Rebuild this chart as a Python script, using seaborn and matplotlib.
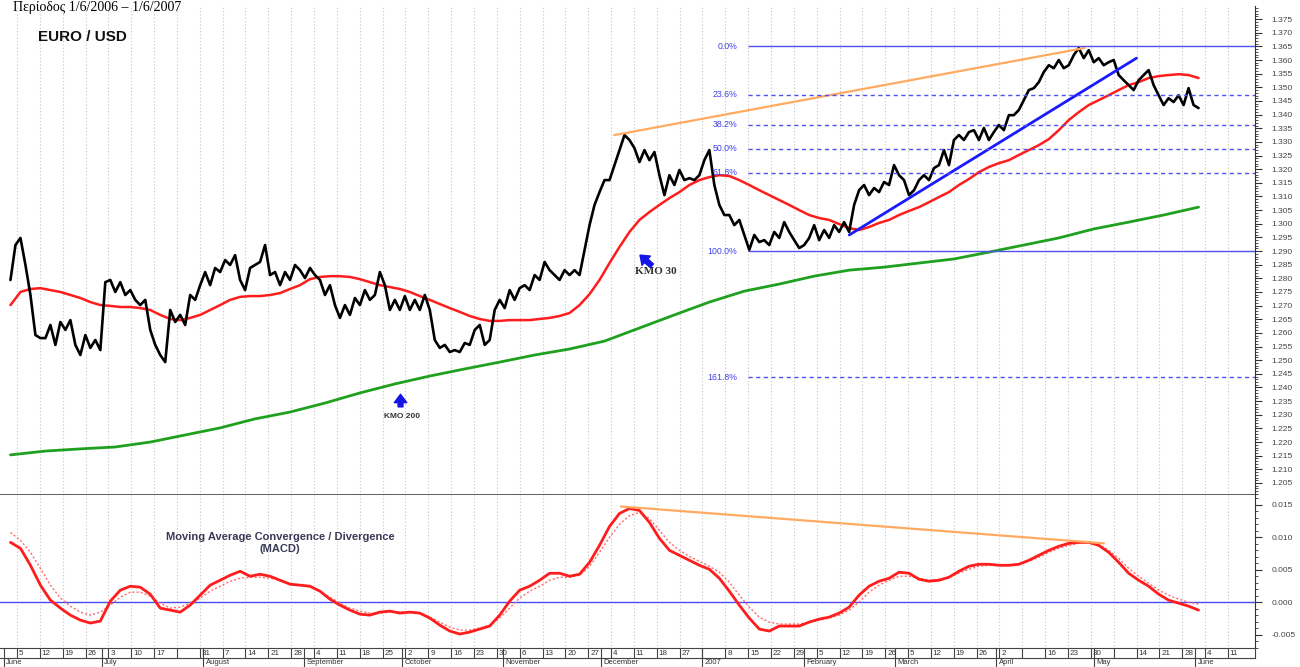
import matplotlib
matplotlib.use("Agg")
import matplotlib.pyplot as plt
from matplotlib.ticker import MultipleLocator, FormatStrFormatter
import pandas as pd
import seaborn as sns

# data (daily-ish samples, first = 2006-06-03, last = 2007-06-02)
START, END = "2006-06-03", "2007-06-02"

eurusd = [
    1.2794, 1.2922, 1.2948, 1.2849, 1.2739, 1.2592, 1.2581, 1.2581, 1.2629, 1.2556,
    1.2640, 1.2611, 1.2647, 1.2556, 1.2519, 1.2592, 1.2545, 1.2574, 1.2537, 1.2786,
    1.2794, 1.2750, 1.2786, 1.2739, 1.2757, 1.2721, 1.2702, 1.2721, 1.2611, 1.2556,
    1.2519, 1.2493, 1.2684, 1.2640, 1.2666, 1.2629, 1.2739, 1.2721, 1.2775, 1.2823,
    1.2775, 1.2838, 1.2823, 1.2867, 1.2849, 1.2885, 1.2794, 1.2757, 1.2838, 1.2849,
    1.2860, 1.2922, 1.2812, 1.2823, 1.2775, 1.2823, 1.2794, 1.2849, 1.2830, 1.2801,
    1.2838, 1.2812, 1.2794, 1.2739, 1.2775, 1.2702, 1.2655, 1.2702, 1.2666, 1.2728,
    1.2702, 1.2757, 1.2721, 1.2739, 1.2823, 1.2775, 1.2684, 1.2721, 1.2684, 1.2735,
    1.2684, 1.2721, 1.2684, 1.2739, 1.2684, 1.2574, 1.2545, 1.2556, 1.2530, 1.2537,
    1.2530, 1.2563, 1.2556, 1.2611, 1.2629, 1.2556, 1.2574, 1.2684, 1.2721, 1.2691,
    1.2757, 1.2721, 1.2764, 1.2775, 1.2757, 1.2812, 1.2794, 1.2860, 1.2830, 1.2812,
    1.2794, 1.2830, 1.2812, 1.2830, 1.2812, 1.2904, 1.2995, 1.3069, 1.3116, 1.3160,
    1.3160, 1.3215, 1.3270, 1.3325, 1.3307, 1.3277, 1.3226, 1.3270, 1.3233, 1.3263,
    1.3178, 1.3105, 1.3178, 1.3142, 1.3197, 1.3160, 1.3167, 1.3160, 1.3178, 1.3233,
    1.3270, 1.3142, 1.3069, 1.3032, 1.3032, 1.2995, 1.3014, 1.2959, 1.2904, 1.2959,
    1.2933, 1.2940, 1.2922, 1.2970, 1.2948, 1.3006, 1.2970, 1.2940, 1.2911, 1.2922,
    1.2948, 1.2995, 1.2940, 1.2977, 1.2948, 1.2995, 1.2970, 1.3006, 1.2970, 1.3069,
    1.3123, 1.3142, 1.3105, 1.3131, 1.3116, 1.3153, 1.3142, 1.3215, 1.3178, 1.3160,
    1.3105, 1.3123, 1.3160, 1.3178, 1.3160, 1.3204, 1.3215, 1.3270, 1.3215, 1.3307,
    1.3325, 1.3307, 1.3336, 1.3343, 1.3307, 1.3351, 1.3307, 1.3336, 1.3362, 1.3343,
    1.3398, 1.3398, 1.3417, 1.3453, 1.3490, 1.3497, 1.3519, 1.3556, 1.3581, 1.3570,
    1.3600, 1.3570, 1.3581, 1.3618, 1.3644, 1.3607, 1.3636, 1.3592, 1.3607, 1.3581,
    1.3592, 1.3600, 1.3545, 1.3526, 1.3508, 1.3490, 1.3526, 1.3545, 1.3563, 1.3508,
    1.3471, 1.3435, 1.3460, 1.3446, 1.3471, 1.3435, 1.3497, 1.3435, 1.3424,
]

ma30 = [
    1.2702, 1.2750, 1.2761, 1.2764, 1.2757, 1.2750, 1.2739, 1.2728, 1.2713, 1.2702,
    1.2699, 1.2695, 1.2695, 1.2691, 1.2684, 1.2666, 1.2651, 1.2647, 1.2655, 1.2666,
    1.2684, 1.2702, 1.2721, 1.2732, 1.2735, 1.2735, 1.2739, 1.2746, 1.2761, 1.2775,
    1.2797, 1.2805, 1.2808, 1.2808, 1.2805, 1.2797, 1.2786, 1.2775, 1.2768, 1.2761,
    1.2750, 1.2735, 1.2721, 1.2706, 1.2691, 1.2677, 1.2662, 1.2651, 1.2644, 1.2644,
    1.2647, 1.2647, 1.2647, 1.2651, 1.2655, 1.2662, 1.2673, 1.2702, 1.2742, 1.2794,
    1.2856, 1.2915, 1.2970, 1.3014, 1.3043, 1.3069, 1.3094, 1.3116, 1.3142, 1.3160,
    1.3171, 1.3178, 1.3175, 1.3160, 1.3142, 1.3123, 1.3105, 1.3087, 1.3069, 1.3050,
    1.3032, 1.3021, 1.3014, 1.2999, 1.2984, 1.2977, 1.2988, 1.3003, 1.3014, 1.3032,
    1.3047, 1.3061, 1.3079, 1.3098, 1.3116, 1.3142, 1.3164, 1.3189, 1.3208, 1.3222,
    1.3233, 1.3252, 1.3270, 1.3288, 1.3310, 1.3343, 1.3380, 1.3409, 1.3435, 1.3453,
    1.3471, 1.3490, 1.3508, 1.3519, 1.3534, 1.3541, 1.3545, 1.3548, 1.3545, 1.3534,
]

ma200 = [
    1.2153, 1.2167, 1.2175, 1.2182, 1.2200, 1.2226, 1.2252, 1.2285, 1.2310, 1.2343,
    1.2380, 1.2413, 1.2442, 1.2468, 1.2493, 1.2519, 1.2541, 1.2570, 1.2618, 1.2666,
    1.2713, 1.2753, 1.2779, 1.2808, 1.2830, 1.2841, 1.2856, 1.2871, 1.2896, 1.2922,
    1.2948, 1.2981, 1.3006, 1.3032, 1.3061,
]

macd = [
    0.00923, 0.00831, 0.00569, 0.00262, 0.00031, -0.00092, -0.00200, -0.00277, -0.00323, -0.00292,
    0.00015, 0.00185, 0.00246, 0.00231, 0.00123, -0.00092, -0.00123, -0.00154, -0.00046, 0.00108,
    0.00262, 0.00338, 0.00415, 0.00477, 0.00400, 0.00431, 0.00400, 0.00338, 0.00277, 0.00262,
    0.00246, 0.00169, 0.00046, -0.00046, -0.00123, -0.00185, -0.00200, -0.00154, -0.00138, -0.00169,
    -0.00154, -0.00169, -0.00246, -0.00354, -0.00446, -0.00492, -0.00462, -0.00415, -0.00369, -0.00200,
    0.00015, 0.00185, 0.00246, 0.00338, 0.00446, 0.00446, 0.00400, 0.00431, 0.00615, 0.00877,
    0.01169, 0.01369, 0.01446, 0.01415, 0.01231, 0.00985, 0.00800, 0.00723, 0.00646, 0.00569,
    0.00508, 0.00369, 0.00169, -0.00046, -0.00246, -0.00415, -0.00446, -0.00369, -0.00369, -0.00369,
    -0.00308, -0.00262, -0.00231, -0.00169, -0.00077, 0.00108, 0.00246, 0.00323, 0.00369, 0.00462,
    0.00446, 0.00354, 0.00323, 0.00338, 0.00385, 0.00477, 0.00554, 0.00585, 0.00585, 0.00569,
    0.00569, 0.00585, 0.00646, 0.00723, 0.00800, 0.00862, 0.00908, 0.00923, 0.00923, 0.00877,
    0.00769, 0.00615, 0.00446, 0.00338, 0.00246, 0.00123, 0.00031, -0.00015, -0.00062, -0.00123,
]

macd_signal = [
    0.01077, 0.00954, 0.00769, 0.00523, 0.00262, 0.00062, -0.00062, -0.00154, -0.00200, -0.00154,
    -0.00046, 0.00077, 0.00154, 0.00154, 0.00092, -0.00015, -0.00092, -0.00077, -0.00015, 0.00062,
    0.00169, 0.00246, 0.00323, 0.00369, 0.00385, 0.00385, 0.00369, 0.00338, 0.00292, 0.00262,
    0.00231, 0.00169, 0.00077, -0.00015, -0.00092, -0.00138, -0.00169, -0.00169, -0.00154, -0.00154,
    -0.00154, -0.00169, -0.00231, -0.00308, -0.00385, -0.00431, -0.00431, -0.00400, -0.00354, -0.00246,
    -0.00092, 0.00062, 0.00169, 0.00246, 0.00338, 0.00385, 0.00385, 0.00415, 0.00554, 0.00769,
    0.01000, 0.01200, 0.01338, 0.01385, 0.01292, 0.01108, 0.00923, 0.00800, 0.00708, 0.00631,
    0.00554, 0.00462, 0.00308, 0.00108, -0.00077, -0.00231, -0.00308, -0.00338, -0.00338, -0.00338,
    -0.00308, -0.00277, -0.00246, -0.00200, -0.00123, 0.00000, 0.00154, 0.00262, 0.00338, 0.00400,
    0.00400, 0.00369, 0.00338, 0.00354, 0.00385, 0.00446, 0.00508, 0.00554, 0.00569, 0.00569,
    0.00569, 0.00585, 0.00631, 0.00692, 0.00769, 0.00831, 0.00877, 0.00908, 0.00923, 0.00892,
    0.00800, 0.00677, 0.00523, 0.00400, 0.00292, 0.00185, 0.00108, 0.00046, 0.00000, -0.00031,
]

# fibonacci retracement levels
fib_labels = ["0.0%", "23.6%", "38.2%", "50.0%", "61.8%", "100.0%", "161.8%"]
fib_prices = [1.3650, 1.3473, 1.3363, 1.3275, 1.3187, 1.2900, 1.2437]
fib_solid = [True, False, False, False, False, True, False]
fib_start = "2007-01-15"

# trend lines (start, end)
top_line_dates = ["2006-12-05", "2007-04-28"]
top_line_prices = [1.3325, 1.3644]
up_trend_dates = ["2007-02-15", "2007-05-14"]
up_trend_prices = [1.2959, 1.3607]
macd_div_dates = ["2006-12-07", "2007-05-04"]
macd_div_values = [0.01477, 0.00908]

week_labels = ["5", "12", "19", "26", "3", "10", "17", "", "31", "7", "14", "21", "28",
               "4", "11", "18", "25", "2", "9", "16", "23", "30", "6", "13", "20", "27",
               "4", "11", "18", "27", "", "8", "15", "22", "29", "5", "12", "19", "26",
               "5", "12", "19", "26", "2", "", "16", "23", "30", "", "14", "21", "28",
               "4", "11"]
month_starts = ["2006-06-01", "2006-07-01", "2006-08-01", "2006-09-01", "2006-10-01",
                "2006-11-01", "2006-12-01", "2007-01-01", "2007-02-01", "2007-03-01",
                "2007-04-01", "2007-05-01", "2007-06-01"]
month_labels = ["June", "July", "August", "September", "October", "November",
                "December", "2007", "February", "March", "April", "May", "June"]

sns.set_style("white")
plt.rcParams["font.family"] = ["Liberation Sans", "DejaVu Sans"]


def span(n):
    return pd.date_range(START, END, periods=n)


price_df = pd.DataFrame({"date": span(len(eurusd)), "v": eurusd})
ma30_df = pd.DataFrame({"date": span(len(ma30)), "v": ma30})
ma200_df = pd.DataFrame({"date": span(len(ma200)), "v": ma200})
macd_df = pd.DataFrame({"date": span(len(macd)), "v": macd})
sig_df = pd.DataFrame({"date": span(len(macd_signal)), "v": macd_signal})

W, H = 1300, 667


def box(x0, y0, x1, y1):
    return [x0 / W, 1 - y1 / H, (x1 - x0) / W, (y1 - y0) / H]


fig = plt.figure(figsize=(13, 6.67), dpi=100)
ax = fig.add_axes(box(0, 6, 1255, 495))
axm = fig.add_axes(box(0, 495, 1255, 649), sharex=ax)
axs = fig.add_axes(box(0, 648, 1255, 658), sharex=ax)

XMIN = pd.Timestamp("2006-05-30 19:00")
XMAX = pd.Timestamp("2007-06-19 07:00")
mondays = pd.date_range("2006-06-05", "2007-06-11", freq="W-MON")

# main price panel
sns.lineplot(data=ma200_df, x="date", y="v", ax=ax, color="#1fa01f", lw=2)
sns.lineplot(data=ma30_df, x="date", y="v", ax=ax, color="#ff1c1c", lw=1.8)
sns.lineplot(data=price_df, x="date", y="v", ax=ax, color="black", lw=1.9)
ax.plot(pd.to_datetime(top_line_dates), top_line_prices, color="#ffaa60", lw=1.6)
ax.plot(pd.to_datetime(up_trend_dates), up_trend_prices, color="#1a1aff", lw=2)

for lab, p, solid in zip(fib_labels, fib_prices, fib_solid):
    ax.hlines(p, pd.Timestamp(fib_start), XMAX, color="#5050f0", lw=1,
              linestyles="-" if solid else (0, (3, 2.5)))
    ax.text(pd.Timestamp(fib_start) - pd.Timedelta(days=3.3), p, lab, ha="right",
            va="center", fontsize=6.3, color="#4040ea")

ax.annotate("", xy=(pd.Timestamp("2006-09-30 12:00"), 1.2375),
            xytext=(pd.Timestamp("2006-09-30 12:00"), 1.2329),
            arrowprops=dict(arrowstyle="simple,head_width=0.9,head_length=0.6,tail_width=0.35",
                            color="#1414e6", mutation_scale=10, shrinkA=0, shrinkB=0))
ax.text(pd.Timestamp("2006-10-01"), 1.2293, "ΚΜΟ 200", ha="center", va="center",
        fontsize=6, fontweight="bold", color="#333333")
ax.annotate("", xy=(pd.Timestamp("2006-12-12 21:00"), 1.2885),
            xytext=(pd.Timestamp("2006-12-16 12:00"), 1.2846),
            arrowprops=dict(arrowstyle="simple,head_width=0.9,head_length=0.6,tail_width=0.35",
                            color="#1414e6", mutation_scale=10, shrinkA=0, shrinkB=0))
ax.text(pd.Timestamp("2006-12-17 19:00"), 1.2826, "ΚΜΟ 30", ha="center", va="center",
        fontsize=8, fontweight="bold", color="#333333",
        family=["Liberation Serif", "DejaVu Serif"])

ax.set_ylim(1.2006, 1.3798)
ax.yaxis.tick_right()
ax.yaxis.set_major_locator(MultipleLocator(0.005))
ax.yaxis.set_minor_locator(MultipleLocator(0.001))
ax.yaxis.set_major_formatter(FormatStrFormatter("%.3f"))

# MACD panel
axm.axhline(0, color="#4a4af0", lw=1)
sns.lineplot(data=sig_df, x="date", y="v", ax=axm, color="#ff6b6b", lw=1, ls=(0, (1.5, 1.5)))
sns.lineplot(data=macd_df, x="date", y="v", ax=axm, color="#ff1c1c", lw=2)
axm.plot(pd.to_datetime(macd_div_dates), macd_div_values, color="#ffaa60", lw=1.6)
axm.set_ylim(-0.00723, 0.01654)
axm.yaxis.tick_right()
axm.yaxis.set_major_locator(MultipleLocator(0.005))
axm.yaxis.set_minor_locator(MultipleLocator(0.001))
axm.yaxis.set_major_formatter(FormatStrFormatter("%.3f"))

for a in (ax, axm):
    a.set_xlabel("")
    a.set_ylabel("")
    a.set_xticks(mondays)
    a.grid(axis="x", color="#c4c4c4", ls=(0, (1, 2)), lw=0.8)
    a.tick_params(axis="x", length=0, labelbottom=False)
    a.tick_params(axis="y", which="major", length=5, width=0.8, pad=7,
                  labelsize=6, color="#333333", labelcolor="#444444")
    a.tick_params(axis="y", which="minor", length=2.5, width=0.6, color="#333333")
    a.spines["left"].set_visible(False)
    a.spines["top"].set_visible(False)
    a.spines["right"].set_color("#333333")
    a.spines["bottom"].set_color("#333333")
    a.spines["bottom"].set_linewidth(1.1)

# date strip
axs.set_ylim(0, 1)
axs.set_yticks([])
axs.tick_params(axis="x", length=0, labelbottom=False)
axs.spines["left"].set_visible(False)
for s in ("top", "bottom", "right"):
    axs.spines[s].set_color("#444444")
    axs.spines[s].set_linewidth(0.8)
axs.vlines(mondays, 0, 1, color="#444444", lw=0.8)
for d, lab in zip(mondays, week_labels):
    axs.text(d + pd.Timedelta(hours=14), 0.45, lab, fontsize=5.8, va="center",
             ha="left", color="#333333")
ms = pd.to_datetime(month_starts)
axs.vlines(ms, -0.9, 1, color="#444444", lw=0.8, clip_on=False)
for d, lab in zip(ms, month_labels):
    axs.text(max(d, XMIN) + pd.Timedelta(hours=18), -0.05, lab, fontsize=5.5,
             va="top", ha="left", color="#333333", clip_on=False)

ax.set_xlim(XMIN, XMAX)

# titles
fig.text(13 / W, 1 - 1 / H, "Περίοδος 1/6/2006 – 1/6/2007", fontsize=10,
         va="top", ha="left", color="black", family=["Liberation Serif", "DejaVu Serif"])
fig.text(38 / W, 1 - 37 / H, "EURO / USD", fontsize=11, fontweight="bold",
         va="center", ha="left", color="#111111")
fig.text(280 / W, 1 - 537 / H, "Moving Average Convergence / Divergence", fontsize=8,
         fontweight="bold", ha="center", va="center", color="#3a3a58")
fig.text(280 / W, 1 - 549 / H, "(MACD)", fontsize=8, fontweight="bold",
         ha="center", va="center", color="#3a3a58")

fig.savefig("out.png", dpi=100)
